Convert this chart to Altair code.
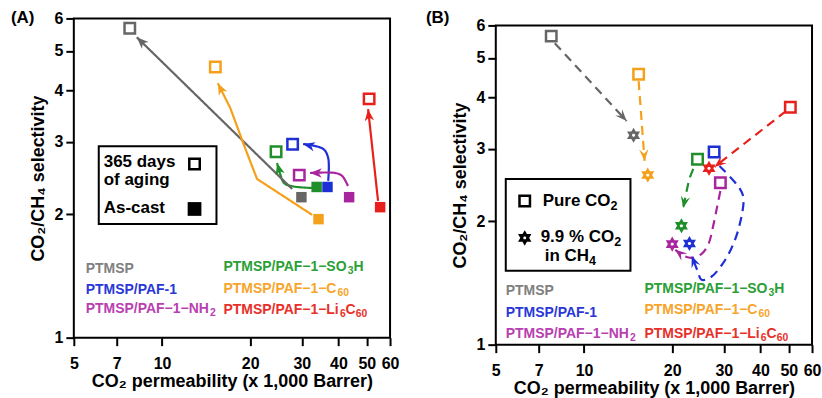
import math
import altair as alt
import pandas as pd

# ---------------- data ----------------
series = ["PTMSP", "PTMSP/PAF-1", "PTMSP/PAF-1-NH2",
          "PTMSP/PAF-1-SO3H", "PTMSP/PAF-1-C60", "PTMSP/PAF-1-Li6C60"]
marker_colors = ["#555555", "#1f2fd6", "#a8259e", "#1f8f2a", "#f5a01a", "#e8201c"]
line_colors = ["#666666", "#1f2fd6", "#a8259e", "#1f8f2a", "#f5a01a", "#e8201c"]
label_colors = ["#808080", "#2a37d8", "#b940b0", "#2aa036", "#f7a52a", "#e8302a"]
# label pieces: (text, is_subscript)
label_parts = [[("PTMSP", False)],
               [("PTMSP/PAF-1", False)],
               [("PTMSP/PAF−1−NH", False), ("2", True)],
               [("PTMSP/PAF−1−SO", False), ("3", True), ("H", False)],
               [("PTMSP/PAF−1−C", False), ("60", True)],
               [("PTMSP/PAF−1−Li", False), ("6", True), ("C", False), ("60", True)]]
curved = ["PTMSP/PAF-1", "PTMSP/PAF-1-NH2", "PTMSP/PAF-1-SO3H"]

x_ticks = [5, 7, 10, 20, 30, 40, 50, 60]
y_ticks = [1, 2, 3, 4, 5, 6]

# Panel A: aged (365 days) vs as-cast
A_aged_x = [7.76, 27.9, 29.4, 24.5, 15.2, 50.9]
A_aged_y = [5.68, 2.96, 2.49, 2.84, 4.57, 3.82]
A_cast_x = [29.9, 36.7, 43.5, 33.7, 34.2, 55.5]
A_cast_y = [2.20, 2.33, 2.20, 2.33, 1.945, 2.08]

A_path_x = [[27.8, 8.20],
            [36.9, 36.9, 35.5, 30.3],
            [43.1, 41.2, 39.0, 32.0],
            [32.8, 26.3, 25.3, 24.7],
            [32.5, 21.1, 19.2, 17.1, 15.5],
            [54.6, 50.5]]
A_path_y = [[2.304, 5.40],
            [2.410, 2.741, 2.884, 2.965],
            [2.343, 2.478, 2.520, 2.520],
            [2.317, 2.370, 2.506, 2.666],
            [1.993, 2.437, 2.900, 3.628, 4.173],
            [2.154, 3.606]]

# Panel B: pure CO2 vs 9.9 % CO2 in CH4
B_pure_x = [7.73, 27.8, 29.2, 24.4, 15.36, 50.6]
B_pure_y = [5.65, 2.95, 2.48, 2.83, 4.56, 3.79]
B_mix_x = [14.76, 22.9, 20.0, 21.5, 16.5, 26.7]
B_mix_y = [3.24, 1.764, 1.758, 1.948, 2.59, 2.69]

B_path_x = [[7.95, 13.98],
            [29.0, 33.9, 35.0, 33.9, 31.8, 29.4, 27.2, 25.2, 24.4, 23.3],
            [29.2, 28.5, 27.6, 26.6, 25.2, 23.3, 21.5, 20.5],
            [23.6, 22.9, 22.4, 21.8],
            [15.36, 16.1],
            [48.9, 27.9]]
B_path_y = [[5.43, 3.508],
            [2.727, 2.410, 2.279, 1.948, 1.713, 1.557, 1.464, 1.439, 1.514, 1.646],
            [2.370, 2.179, 1.948, 1.761, 1.665, 1.628, 1.656, 1.703],
            [2.681, 2.534, 2.370, 2.154],
            [4.388, 2.804],
            [3.710, 2.712]]

# ---------------- styling ----------------
W, H = 317, 320
FONT = "Liberation Sans"
XDOM, YDOM = [5, 60], [1, 6]
ARROW_A = "M0,0L0.62,1.55L0,1.12L-0.62,1.55Z"
ARROW_B = "M0,0L0.62,1.55L0,0.95L-0.62,1.55Z"
HEXAGRAM = "M0,-1L0.866,0.5L-0.866,0.5Z M0,1L0.866,-0.5L-0.866,-0.5Z"
# Arial/Liberation Sans Bold advance widths (1/1000 em)
AW = {"P": 667, "T": 611, "M": 833, "S": 667, "/": 278, "A": 722, "F": 611,
      "-": 333, "−": 584, "1": 556, "C": 722, "L": 611, "i": 278, "N": 722,
      "H": 722, "O": 778, " ": 278, "u": 611, "r": 389, "e": 556, "n": 611,
      ".": 278, "%": 889, "9": 556}

color_scale = alt.Scale(domain=series, range=line_colors)
mcolor_scale = alt.Scale(domain=series, range=marker_colors)
xs = alt.Scale(type="log", domain=XDOM, nice=False)
ys = alt.Scale(type="log", domain=YDOM, nice=False)


def px(v):
    return W * math.log(v / XDOM[0]) / math.log(XDOM[1] / XDOM[0])


def py(v):
    return H * (1 - math.log(v / YDOM[0]) / math.log(YDOM[1] / YDOM[0]))


def xenc():
    return alt.X("x:Q", scale=xs, axis=alt.Axis(
        values=x_ticks, format="d", title="CO₂ permeability (x 1,000 Barrer)",
        labelFlush=False, labelOverlap=False, labelPadding=10, titlePadding=1))


def yenc():
    return alt.Y("y:Q", scale=ys, axis=alt.Axis(
        values=y_ticks, format="d", title="CO₂/CH₄ selectivity",
        labelOverlap=False, labelPadding=3, titlePadding=6))


def paths_df(px_list, py_list):
    rows = []
    for s, xl, yl in zip(series, px_list, py_list):
        for i, (xv, yv) in enumerate(zip(xl, yl)):
            rows.append({"series": s, "i": i, "x": xv, "y": yv})
    return pd.DataFrame(rows)


def heads_df(px_list, py_list):
    rows = []
    for s, xl, yl in zip(series, px_list, py_list):
        dx = px(xl[-1]) - px(xl[-2])
        dy = py(yl[-1]) - py(yl[-2])
        ang = math.degrees(math.atan2(dx, -dy)) % 360
        rows.append({"series": s, "x": xl[-1], "y": yl[-1], "angle": ang})
    return pd.DataFrame(rows)


def pts_df(xl, yl):
    return pd.DataFrame({"series": series, "x": xl, "y": yl})


def text(t, x, y, color="black", size=17, align="left"):
    return alt.Chart(pd.DataFrame({"t": [t]})).mark_text(
        align=align, baseline="middle", font=FONT, fontWeight="bold",
        fontSize=size, color=color).encode(
        x=alt.value(x), y=alt.value(y), text="t:N")


def rich(parts, x, y, color="black", size=14):
    layers = []
    cx = x
    for t, sub in parts:
        fs = size * 0.74 if sub else size
        yy = y + size * 0.3 if sub else y
        layers.append(text(t, cx, yy, color, fs))
        cx += sum(AW.get(c, 556) for c in t) * fs / 1000.0
    return layers


def box(x1, x2, y1, y2):
    return alt.Chart(pd.DataFrame({"a": [0]})).mark_rect(
        fill="white", stroke="black", strokeWidth=2).encode(
        x=alt.value(x1), x2=alt.value(x2), y=alt.value(y1), y2=alt.value(y2))


def sym(x, y, shape, filled, size, sw=2.5, color="black"):
    return alt.Chart(pd.DataFrame({"a": [0]})).mark_point(
        shape=shape, filled=filled, size=size, strokeWidth=sw,
        color=color, opacity=1).encode(x=alt.value(x), y=alt.value(y))


def panel(path_x, path_y, open_x, open_y, other_x, other_y, dashed, other_shape,
          other_filled, other_size, tag, tag_x, tag_y, legend_layers, label_rows, lx,
          arrow):
    pdf = paths_df(path_x, path_y)
    dash = [9, 6] if dashed else [1, 0]
    line_layers = []
    for interp, sub in (("catmull-rom", pdf[pdf.series.isin(curved)]),
                        ("linear", pdf[~pdf.series.isin(curved)])):
        line_layers.append(alt.Chart(sub).mark_line(
            strokeWidth=2.2, interpolate=interp, strokeDash=dash).encode(
            x=xenc(), y=yenc(), detail="series:N", order="i:Q",
            color=alt.Color("series:N", scale=color_scale, legend=None)))
    heads = alt.Chart(heads_df(path_x, path_y)).mark_point(
        shape=arrow, filled=True, size=230, opacity=1).encode(
        x="x:Q", y="y:Q", angle=alt.Angle("angle:Q", scale=None),
        color=alt.Color("series:N", scale=color_scale, legend=None))
    opens = alt.Chart(pts_df(open_x, open_y)).mark_point(
        shape="square", filled=False, size=110, strokeWidth=2.5, opacity=1).encode(
        x="x:Q", y="y:Q",
        color=alt.Color("series:N", scale=mcolor_scale, legend=None))
    others = alt.Chart(pts_df(other_x, other_y)).mark_point(
        shape=other_shape, filled=other_filled, size=other_size,
        strokeWidth=2.3, opacity=1).encode(
        x="x:Q", y="y:Q",
        color=alt.Color("series:N", scale=mcolor_scale, legend=None))
    labels = []
    for k, parts in enumerate(label_parts):
        col = 0 if k < 3 else 1
        row = k % 3
        labels += rich(parts, lx[col], label_rows[col][row], label_colors[k], 14)
    tag_layer = text(tag, tag_x, tag_y, "black", 17)
    return alt.layer(*line_layers, heads, opens, others, *legend_layers, *labels,
                     tag_layer).properties(width=W, height=H)


legend_A = [box(25, 143, 128, 206),
            text("365 days", 30, 144, size=17),
            text("of aging", 30, 162, size=17),
            text("As-cast", 30, 190, size=17),
            sym(121, 146, "square", False, 110, 2.5),
            sym(121, 191, "square", True, 190, 1)]

legend_B = ([box(10, 135, 154, 246),
             sym(29, 176, "square", False, 110, 2.5),
             sym(29, 213, HEXAGRAM, False, 110, 2.5)]
            + rich([("Pure CO", False), ("2", True)], 47, 176, size=17)
            + rich([("9.9 % CO", False), ("2", True)], 45, 212, size=17)
            + rich([("in CH", False), ("4", True)], 49, 231, size=17))

pA = panel(A_path_x, A_path_y, A_aged_x, A_aged_y, A_cast_x, A_cast_y,
           False, "square", True, 110, "(A)", -63, 0, legend_A,
           [[251, 272, 291], [249, 271, 292]], [12, 150], ARROW_A)
pB = panel(B_path_x, B_path_y, B_pure_x, B_pure_y, B_mix_x, B_mix_y,
           True, HEXAGRAM, False, 110, "(B)", -70, -7, legend_B,
           [[266, 288, 309], [264, 285, 309]], [10, 149], ARROW_B)

# an invisible strip above panel B so that its frame sits a few pixels lower
spacer = alt.Chart(pd.DataFrame({"a": [0]})).mark_point(opacity=0).encode(
    x=alt.value(0), y=alt.value(0)).properties(
    width=W, height=1, view=alt.ViewBackground(stroke="transparent"))

right = alt.vconcat(spacer, pB, spacing=6, bounds="flush")

chart = alt.hconcat(pA, right, spacing=25).properties(
    padding={"left": 10, "top": 8, "right": 0, "bottom": 0}
).configure_view(stroke="black", strokeWidth=2).configure_axis(
    labelFont=FONT, titleFont=FONT, labelFontWeight="bold", titleFontWeight="bold",
    labelFontSize=16, titleFontSize=18, labelColor="black", titleColor="black",
    tickColor="black", tickWidth=2, tickSize=8, domain=False, grid=False)

chart.save("out.html", embed_options={"renderer": "svg", "actions": False})
